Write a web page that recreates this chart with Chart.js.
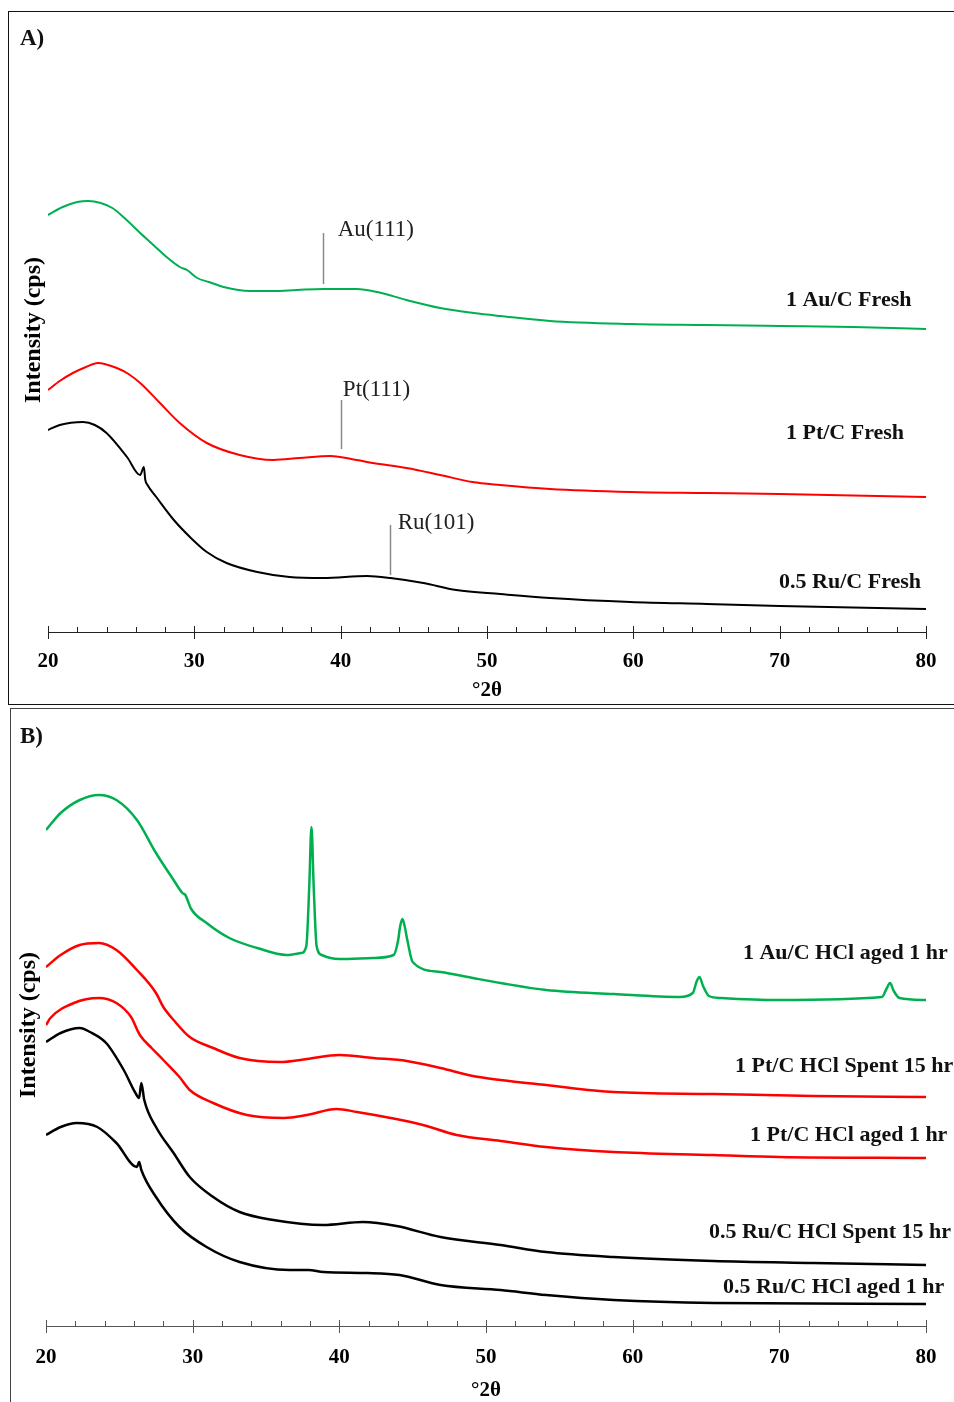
<!DOCTYPE html>
<html>
<head>
<meta charset="utf-8">
<script src="https://cdn.jsdelivr.net/npm/chart.js@4.4.1/dist/chart.umd.min.js"></script>
<style>
  body { margin: 0; background: #fff; width: 954px; height: 1402px; overflow: hidden; position: relative; }
  .panel { position: absolute; border: 1px solid #111; background: #fff; }
  #pa { left: 8px; top: 11px; width: 958px; height: 692px; }
  #pb { left: 10px; top: 708px; width: 958px; height: 698px; border-color: #444; }
  .tag { position: absolute; font: bold 23px "Liberation Serif", serif; line-height: 22px; color: #111; }
  canvas { position: absolute; left: 0; top: 0; }
</style>
</head>
<body>
<div class="panel" id="pa"><canvas id="chartA" width="958" height="692"></canvas></div>
<div class="panel" id="pb"><canvas id="chartB" width="958" height="698"></canvas></div>
<div class="tag" style="left:20px;top:27px">A)</div>
<div class="tag" style="left:20px;top:725px">B)</div>
<script>
// ---- panel A: fresh catalysts (°2θ vs intensity, offset traces)
var auFreshDeg = [20, 21, 22, 22.75, 23.6, 24.4, 25.3, 26.3, 27.2, 28.1, 29.0, 29.5, 30.2, 31.0, 32.0, 33.8, 35.4, 37.0, 38.8, 41.1, 42.5, 44.5, 46.8, 49.1, 50.9, 54.3, 59.8, 65, 70, 75, 80];
var auFreshCps = [417, 425, 430, 431, 429, 424, 413, 399, 387, 375, 365, 362, 354, 350, 345, 341, 341, 342, 343, 343, 340, 332, 324, 319, 316, 311, 308, 307, 306, 305, 303];

var ptFreshDeg = [20, 20.8, 21.7, 22.6, 23.4, 24.7, 25.5, 26.3, 27.65, 29.0, 30.85, 33.1, 35.4, 37.2, 39.3, 41.1, 42.2, 44.5, 46.8, 49.0, 50.9, 54.3, 59.8, 65, 70, 80];
var ptFreshCps = [242, 251, 259, 265, 269, 264, 258, 249, 229, 209, 189, 177, 172, 174, 176, 172, 169, 164, 157, 150, 147, 143, 140, 139, 138, 135];

var ruFreshDeg = [20, 20.8, 22.4, 23.2, 24.0, 25.4, 26.3, 26.55, 26.65, 26.8, 27.4, 28.6, 29.7, 30.85, 32.2, 34.3, 36.5, 38.8, 41.8, 43.4, 45.65, 47.9, 50.9, 54.3, 59.8, 65, 70, 80];
var ruFreshCps = [202, 207, 210, 207, 199, 175, 157, 165, 152, 147, 135, 112, 95, 80, 69, 60, 55, 54, 56, 54, 49, 42, 38, 34, 30, 28, 26, 23];

// ---- panel B: HCl aged / spent catalysts
var auAgedDeg = [20, 21, 22.3, 23.6, 24.8, 26.2, 27.5, 28.7, 29.3, 29.5, 29.9, 30.95, 32.5, 34.4, 36.4, 37.4, 37.75, 37.95, 38.1, 38.25, 38.45, 38.8, 40.0, 42.3, 43.7, 44.0, 44.15, 44.3, 44.45, 44.65, 45.0, 46.9, 49.1, 51.0, 54.1, 58.7, 63.2, 64.1, 64.35, 64.55, 64.8, 65.2, 66.0, 70.0, 77.0, 77.3, 77.55, 77.8, 78.2, 80];
var auAgedCps = [496, 513, 526, 531, 526, 506, 473, 446, 433, 431, 417, 403, 388, 378, 371, 373, 380, 440, 499, 440, 380, 371, 367, 368, 371, 385, 400, 407, 400, 385, 364, 354, 348, 343, 336, 332, 329, 333, 344, 349, 340, 330, 328, 326, 329, 337, 343, 335, 328, 326];

var ptSpentDeg = [20, 21, 22.3, 23.6, 24.8, 26.2, 27.5, 28.0, 28.7, 29.8, 31.4, 33.2, 35.95, 37.8, 40.0, 42.3, 44.6, 46.9, 49.1, 51.0, 54.1, 58.7, 65.5, 72.3, 80];
var ptSpentCps = [359, 371, 381, 383, 376, 356, 333, 319, 306, 289, 278, 268, 264, 267, 271, 268, 265, 258, 250, 246, 241, 234, 232, 230, 229];

var ptAgedDeg = [20, 20.3, 21.9, 23.6, 24.8, 25.8, 26.4, 27.2, 28.0, 29.1, 29.8, 31.4, 33.7, 36.2, 37.8, 39.8, 41.2, 43.5, 45.7, 48.0, 51.0, 54.1, 58.7, 65.5, 70, 80];
var ptAgedCps = [301, 308, 323, 328, 323, 309, 291, 278, 266, 249, 236, 223, 211, 208, 211, 217, 214, 208, 201, 191, 185, 179, 174, 171, 169, 168];

var ruSpentDeg = [20, 21, 22.3, 23.0, 24.1, 25.3, 26.1, 26.35, 26.5, 26.7, 27.5, 28.7, 29.8, 31.4, 33.2, 35.5, 38.9, 41.6, 43.9, 46.9, 51.0, 54.1, 58.7, 65.5, 72.3, 80];
var ruSpentCps = [284, 293, 298, 294, 283, 256, 233, 228, 243, 226, 199, 173, 149, 129, 114, 106, 101, 104, 100, 89, 81, 74, 69, 65, 63, 61];

var ruAgedDeg = [20, 21, 22.1, 23.5, 24.8, 26.2, 26.35, 26.5, 27.5, 29.1, 30.95, 33.2, 36.6, 37.9, 38.9, 41.9, 44.1, 46.9, 51.0, 54.1, 58.7, 65.5, 80];
var ruAgedCps = [191, 199, 203, 199, 183, 159, 164, 156, 129, 99, 79, 64, 56, 56, 54, 53, 51, 41, 36, 31, 26, 23, 22];

var xTicks = [20, 30, 40, 50, 60, 70, 80];

var GREEN = '#00b050', RED = '#ff0000', BLACK = '#000000';

function pts(deg, cps) {
  return deg.map(function (d, i) { return { x: d, y: cps[i] }; });
}

function trace(deg, cps, color, w) {
  return {
    data: pts(deg, cps),
    borderColor: color,
    borderWidth: w,
    pointRadius: 0,
    cubicInterpolationMode: 'monotone',
    fill: false
  };
}

// axis line, minor ticks, peak markers and trace names
var deco = {
  id: 'deco',
  afterDatasetsDraw: function (chart, args, o) {
    var ctx = chart.ctx, a = chart.chartArea, x = chart.scales.x, y = chart.scales.y;
    ctx.save();
    ctx.strokeStyle = o.axisColor;
    ctx.lineWidth = 1;
    ctx.beginPath();
    ctx.moveTo(a.left, a.bottom + 0.5);
    ctx.lineTo(a.right, a.bottom + 0.5);
    for (var v = x.min; v <= x.max; v += 2) {
      var px = Math.round(x.getPixelForValue(v)) + 0.5;
      var major = xTicks.indexOf(v) >= 0;
      ctx.moveTo(px, a.bottom - (major ? 6 : 5));
      ctx.lineTo(px, a.bottom + (major ? 7 : 0));
    }
    ctx.stroke();

    (o.markers || []).forEach(function (m) {
      var lx = Math.round(x.getPixelForValue(m.at)) + 0.5;
      ctx.strokeStyle = '#8a8a8a';
      ctx.lineWidth = 1.5;
      ctx.beginPath();
      ctx.moveTo(lx, y.getPixelForValue(m.from));
      ctx.lineTo(lx, y.getPixelForValue(m.to));
      ctx.stroke();
      ctx.fillStyle = '#222';
      ctx.font = '23px "Liberation Serif", serif';
      ctx.textAlign = 'left';
      ctx.textBaseline = 'middle';
      ctx.fillText(m.text, x.getPixelForValue(m.tx), y.getPixelForValue(m.ty));
    });

    ctx.fillStyle = '#111';
    ctx.font = 'bold 22px "Liberation Serif", serif';
    ctx.textAlign = 'left';
    ctx.textBaseline = 'middle';
    (o.names || []).forEach(function (n) {
      ctx.fillText(n.text, x.getPixelForValue(n.x), y.getPixelForValue(n.y));
    });
    ctx.restore();
  }
};

function makeChart(id, datasets, s) {
  return new Chart(document.getElementById(id), {
    type: 'line',
    data: { datasets: datasets },
    plugins: [deco],
    options: {
      responsive: false,
      animation: false,
      layout: { padding: s.pad },
      plugins: {
        legend: { display: false },
        tooltip: { enabled: false },
        deco: s.deco
      },
      scales: {
        x: {
          type: 'linear', min: 20, max: 80,
          grid: { display: false, drawTicks: false },
          border: { display: false },
          ticks: {
            stepSize: 10, color: '#000', padding: s.tickPad,
            font: { family: '"Liberation Serif", serif', weight: 'bold', size: 21 }
          },
          title: {
            display: true, text: '°2θ', color: '#000',
            padding: { top: 0, bottom: s.titlePad },
            font: { family: '"Liberation Serif", serif', weight: 'bold', size: 21 }
          },
          afterFit: function (sc) { sc.height = s.xHeight; }
        },
        y: {
          min: 0, max: s.yMax,
          grid: { display: false, drawTicks: false },
          border: { display: false },
          ticks: { display: false },
          title: {
            display: true, text: 'Intensity (cps)', color: '#000',
            padding: { top: 0, bottom: 0 },
            font: { family: '"Liberation Serif", serif', weight: 'bold', size: 24 }
          },
          afterFit: function (sc) { sc.width = s.yWidth; }
        }
      }
    }
  });
}

makeChart('chartA', [
  trace(auFreshDeg, auFreshCps, GREEN, 2),
  trace(ptFreshDeg, ptFreshCps, RED, 2),
  trace(ruFreshDeg, ruFreshCps, BLACK, 2)
], {
  pad: { left: 10, top: 16, right: 41, bottom: 0 },
  yWidth: 29, xHeight: 72, yMax: 604, tickPad: 17, titlePad: 1,
  deco: {
    axisColor: '#222',
    markers: [
      { text: 'Au(111)', at: 38.8, from: 348, to: 399, tx: 39.8, ty: 402 },
      { text: 'Pt(111)', at: 40.0, from: 183, to: 232, tx: 40.15, ty: 242 },
      { text: 'Ru(101)', at: 43.4, from: 57, to: 107, tx: 43.9, ty: 109 }
    ],
    names: [
      { text: '1 Au/C Fresh', x: 70.43, y: 332 },
      { text: '1 Pt/C Fresh', x: 70.43, y: 199 },
      { text: '0.5 Ru/C Fresh', x: 69.96, y: 50 }
    ]
  }
});

makeChart('chartB', [
  trace(auAgedDeg, auAgedCps, GREEN, 2.5),
  trace(ptSpentDeg, ptSpentCps, RED, 2.5),
  trace(ptAgedDeg, ptAgedCps, RED, 2.5),
  trace(ruSpentDeg, ruSpentCps, BLACK, 2.5),
  trace(ruAgedDeg, ruAgedCps, BLACK, 2.5)
], {
  pad: { left: 3, top: 15, right: 43, bottom: 0 },
  yWidth: 32, xHeight: 81, yMax: 602, tickPad: 19, titlePad: 4,
  deco: {
    axisColor: '#555',
    names: [
      { text: '1 Au/C HCl aged 1 hr', x: 67.52, y: 373 },
      { text: '1 Pt/C HCl Spent 15 hr', x: 66.98, y: 260 },
      { text: '1 Pt/C HCl aged 1 hr', x: 68.0, y: 191 },
      { text: '0.5 Ru/C HCl Spent 15 hr', x: 65.2, y: 94 },
      { text: '0.5 Ru/C HCl aged 1 hr', x: 66.16, y: 39 }
    ]
  }
});
</script>
</body>
</html>
